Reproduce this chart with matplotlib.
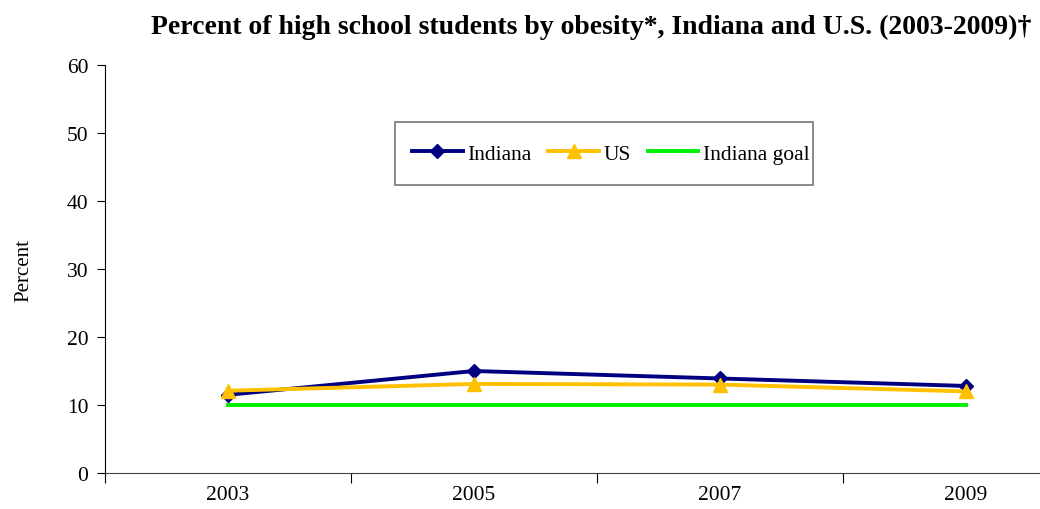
import matplotlib.pyplot as plt
from matplotlib.patches import Rectangle
import numpy as np

# Obesity among high school students, YRBS
years = ['2003', '2005', '2007', '2009']
indiana = [11.5, 15.0, 13.9, 12.8]
us = [12.1, 13.1, 13.0, 12.0]
indiana_goal = [10, 10, 10, 10]

plt.rcParams['font.family'] = ['Liberation Serif', 'DejaVu Serif']

W, H = 1040, 510
fig = plt.figure(figsize=(W/100, H/100), dpi=100)
# plot area runs a bit past the right edge of the figure
ax = fig.add_axes([105/W, 36/H, 984/W, 408/H])

x = np.arange(len(years))
ax.plot(x, indiana, color='#000080', lw=2.8, marker='D', ms=7.5, label='Indiana', zorder=3)
ax.plot(x, us, color='#FFC000', lw=2.8, marker='^', ms=10, label='US', zorder=4)
ax.plot(x, indiana_goal, color='#00EE00', lw=2.8, label='Indiana goal', zorder=2)

ax.set_xlim(-0.5, len(years) - 0.5)
ax.set_ylim(0, 60)
ax.set_yticks(range(0, 61, 10))
ax.set_xticks(x)
ax.set_xticklabels(years)
ax.set_xticks(np.arange(-0.5, len(years), 1), minor=True)
ax.tick_params(axis='x', which='major', length=0, pad=9, labelsize=15.5)
ax.tick_params(axis='x', which='minor', length=7, direction='out', width=0.8)
ax.tick_params(axis='y', length=6, direction='out', width=0.8, labelsize=15.5, pad=6)

for s in ['top', 'right']:
    ax.spines[s].set_visible(False)
ax.spines['left'].set_linewidth(0.8)
ax.spines['bottom'].set_linewidth(0.8)
ax.spines['bottom'].set_color('#404040')

ax.set_ylabel('Percent', fontsize=15, labelpad=24)

# legend box drawn separately (uneven inner padding)
fig.patches.append(Rectangle((395/W, 1 - 186/H), 418/W, 63/H, transform=fig.transFigure,
                             fill=False, edgecolor='#808080', lw=1.3))
fig.legend(loc='center left', bbox_to_anchor=(412/W, 1 - 154.5/H),
           ncol=3, fontsize=15.5, frameon=False,
           handlelength=2.35, handletextpad=0.2, columnspacing=0.8,
           borderpad=0, borderaxespad=0)

fig.text(591/W, 1 - 27/H, 'Percent of high school students by obesity*, Indiana and U.S. (2003-2009)\u2020',
         ha='center', va='center', fontsize=20, fontweight='bold')

fig.savefig('out.png', dpi=100)
